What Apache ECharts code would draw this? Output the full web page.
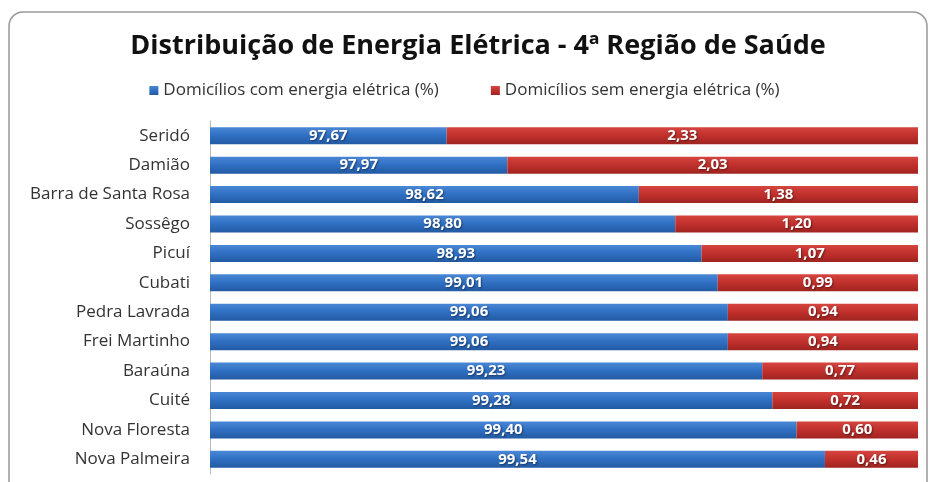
<!DOCTYPE html>
<html>
<head>
<meta charset="utf-8">
<script src="https://cdn.jsdelivr.net/npm/echarts@6/dist/echarts.min.js"></script>
<style>
html, body { margin: 0; padding: 0; background: #fff; }
#main { width: 929px; height: 482px; }
</style>
</head>
<body>
<div id="main"></div>
<script>
// municípios, de cima para baixo
var categorias = ['Seridó', 'Damião', 'Barra de Santa Rosa', 'Sossêgo', 'Picuí', 'Cubati',
    'Pedra Lavrada', 'Frei Martinho', 'Baraúna', 'Cuité', 'Nova Floresta', 'Nova Palmeira'];
var comEnergia = [97.67, 97.97, 98.62, 98.80, 98.93, 99.01, 99.06, 99.06, 99.23, 99.28, 99.40, 99.54];
var semEnergia = [2.33, 2.03, 1.38, 1.20, 1.07, 0.99, 0.94, 0.94, 0.77, 0.72, 0.60, 0.46];
var nomes = ['Domicílios com energia elétrica (%)', 'Domicílios sem energia elétrica (%)'];

var fonte = 'Open Sans, Noto Sans, sans-serif';

function virgula(p) {
    return p.value.toFixed(2).replace('.', ',');
}

var rotulo = {
    show: true,
    position: 'inside',
    color: '#fff',
    fontFamily: fonte,
    fontWeight: 'bold',
    fontSize: 15,
    textShadowColor: 'rgba(0,0,0,0.45)',
    textShadowBlur: 2,
    textShadowOffsetX: 1,
    textShadowOffsetY: 1,
    formatter: virgula
};

var chart = echarts.init(document.getElementById('main'));

var option = {
    backgroundColor: '#fff',
    animation: false,
    graphic: [{
        type: 'rect',
        shape: { x: 9, y: 12, width: 918, height: 490, r: 14 },
        style: { fill: 'none', stroke: '#999', lineWidth: 1.5 },
        z: -1
    }],
    title: {
        text: 'Distribuição de Energia Elétrica - 4ª Região de Saúde',
        left: 473,
        textAlign: 'center',
        top: 28,
        textStyle: { fontFamily: fonte, fontSize: 27, fontWeight: 'bold', color: '#111' }
    },
    legend: {
        top: 77,
        left: 'center',
        itemWidth: 9,
        itemHeight: 9,
        itemGap: 52,
        icon: 'rect',
        textStyle: { fontFamily: fonte, fontSize: 17, color: '#333' },
        data: nomes
    },
    grid: { left: 210, right: 11, top: 121, bottom: 8 },
    xAxis: {
        type: 'value',
        min: 96.5,
        max: 100,
        startValue: 96.5,
        show: false
    },
    yAxis: {
        type: 'category',
        inverse: true,
        data: categorias,
        axisLine: { show: true, lineStyle: { color: '#bbb' } },
        axisTick: { show: false },
        axisLabel: { fontFamily: fonte, fontSize: 17, color: '#333', margin: 20 }
    },
    series: [
        {
            name: nomes[0],
            type: 'bar',
            stack: 'total',
            barWidth: 17,
            itemStyle: {
                color: new echarts.graphic.LinearGradient(0, 0, 0, 1, [
                    { offset: 0, color: '#4a88d6' },
                    { offset: 0.5, color: '#2f6fc2' },
                    { offset: 1, color: '#235aa3' }
                ])
            },
            label: rotulo,
            data: comEnergia
        },
        {
            name: nomes[1],
            type: 'bar',
            stack: 'total',
            barWidth: 17,
            itemStyle: {
                color: new echarts.graphic.LinearGradient(0, 0, 0, 1, [
                    { offset: 0, color: '#d6453f' },
                    { offset: 0.5, color: '#c0302c' },
                    { offset: 1, color: '#a02420' }
                ])
            },
            label: rotulo,
            data: semEnergia
        }
    ]
};

chart.setOption(option);
</script>
</body>
</html>
